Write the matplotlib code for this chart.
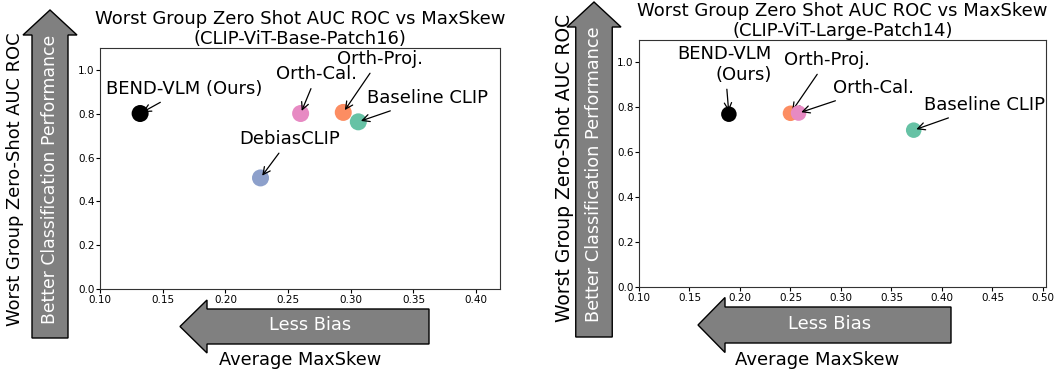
import matplotlib.pyplot as plt
from matplotlib.patches import FancyArrow

# data
methods_base = ["BEND-VLM (Ours)", "Orth-Cal.", "Orth-Proj.", "Baseline CLIP", "DebiasCLIP"]
skew_base = [0.132, 0.260, 0.294, 0.306, 0.228]
auc_base = [0.801, 0.801, 0.806, 0.763, 0.507]

methods_large = ["BEND-VLM\n(Ours)", "Orth-Proj.", "Orth-Cal.", "Baseline CLIP"]
skew_large = [0.189, 0.250, 0.258, 0.372]
auc_large = [0.770, 0.774, 0.775, 0.699]

colors = {"BEND-VLM": "black", "Orth-Cal.": "#e78ac3", "Orth-Proj.": "#fc8d62",
          "Baseline CLIP": "#66c2a5", "DebiasCLIP": "#8da0cb"}

# label positions (data coords)
text_base = [(0.167, 0.912), (0.273, 0.980), (0.323, 1.049), (0.361, 0.871), (0.251, 0.684)]
text_large = [(0.185, 0.992), (0.286, 1.010), (0.332, 0.886), (0.442, 0.810)]

W, H = 1056, 375
fig = plt.figure(figsize=(W / 100, H / 100), dpi=100)


def fx(px):
    return px / W


def fy(py):
    return 1 - py / H


def col(name):
    return colors[name.split(" (")[0].split("\n")[0]]


def panel(rect, xs, ys, names, tpos, xlim, ticks, title, msize):
    ax = fig.add_axes(rect)
    for x, y, n, t in zip(xs, ys, names, tpos):
        ax.scatter(x, y, s=msize, color=col(n), zorder=3, edgecolors="none")
        ax.annotate(n, xy=(x, y), xytext=t, ha="center", va="center",
                    multialignment="right", fontsize=13,
                    arrowprops=dict(arrowstyle="->", color="black", lw=0.9))
    ax.set_xlim(*xlim)
    ax.set_ylim(0, 1.1)
    ax.set_xticks(ticks)
    ax.set_yticks([0.0, 0.2, 0.4, 0.6, 0.8, 1.0])
    ax.tick_params(labelsize=7.5, pad=1, length=3)
    for s in ax.spines.values():
        s.set_color("#333333")
    ax.set_title(title, fontsize=13, pad=3, linespacing=1.1)
    return ax


panel([fx(100), fy(289), fx(400), (289 - 48) / H], skew_base, auc_base, methods_base,
      text_base, (0.10, 0.419), [0.10, 0.15, 0.20, 0.25, 0.30, 0.35, 0.40],
      "Worst Group Zero Shot AUC ROC vs MaxSkew\n(CLIP-ViT-Base-Patch16)", 150)

panel([fx(639), fy(287.3), fx(407), (287.3 - 40) / H], skew_large, auc_large, methods_large,
      text_large, (0.10, 0.503), [0.10, 0.15, 0.20, 0.25, 0.30, 0.35, 0.40, 0.45, 0.50],
      "Worst Group Zero Shot AUC ROC vs MaxSkew\n(CLIP-ViT-Large-Patch14)", 125)


def big_arrow(x0, y0, x1, y1, width, head_w, head_l):
    # pixel coords from top-left, drawn in inches
    a = FancyArrow(x0 / 100, (H - y0) / 100, (x1 - x0) / 100, (y0 - y1) / 100,
                   width=width / 100, head_width=head_w / 100, head_length=head_l / 100,
                   length_includes_head=True, transform=fig.dpi_scale_trans,
                   facecolor="#808080", edgecolor="black", lw=1)
    fig.add_artist(a)


# vertical arrows
big_arrow(50, 338, 50, 10, 36, 54, 25)
big_arrow(594, 337, 594, 2, 36.5, 54, 25)
# horizontal arrows
big_arrow(429, 326.5, 180, 326.5, 35, 53, 27)
big_arrow(951, 325, 698, 325, 36, 55, 27)

fig.text(fx(50), fy(179), "Better Classification Performance", rotation=90,
         color="white", fontsize=12.4, ha="center", va="center")
fig.text(fx(594), fy(174), "Better Classification Performance", rotation=90,
         color="white", fontsize=12.7, ha="center", va="center")
fig.text(fx(310), fy(325), "Less Bias", color="white", fontsize=12.8, ha="center", va="center")
fig.text(fx(830), fy(324), "Less Bias", color="white", fontsize=13, ha="center", va="center")

fig.text(fx(15), fy(179), "Worst Group Zero-Shot AUC ROC", rotation=90,
         fontsize=12.9, ha="center", va="center")
fig.text(fx(565), fy(168), "Worst Group Zero-Shot AUC ROC", rotation=90,
         fontsize=13.5, ha="center", va="center")
fig.text(fx(300), fy(360), "Average MaxSkew", fontsize=12.8, ha="center", va="center")
fig.text(fx(817), fy(360), "Average MaxSkew", fontsize=13, ha="center", va="center")

fig.savefig("out.png", dpi=100)
